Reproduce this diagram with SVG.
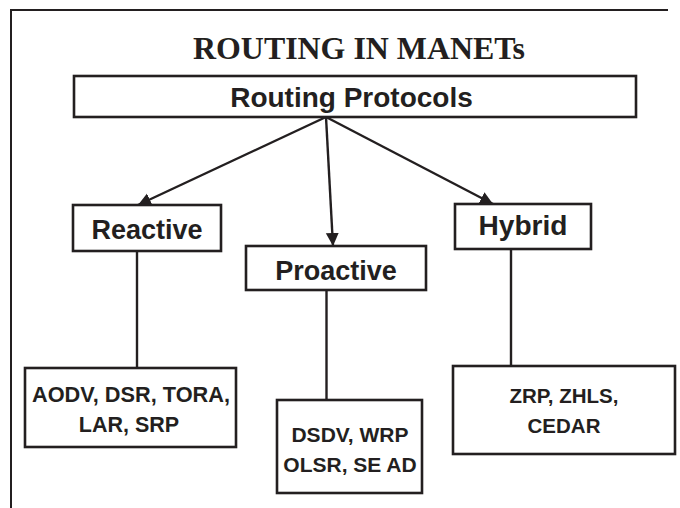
<svg xmlns="http://www.w3.org/2000/svg" width="680" height="508" viewBox="0 0 680 508">
  <style>
    .box { fill: #ffffff; stroke: #231f20; stroke-width: 2.6; }
    .conn { fill: none; stroke: #231f20; stroke-width: 2.4; }
    .lbl { font-family: "Liberation Sans", Arial, sans-serif; font-weight: bold; fill: #231f20; text-anchor: middle; }
    .title { font-family: "Liberation Serif", "Times New Roman", serif; font-weight: bold; fill: #231f20; text-anchor: middle; }
  </style>
  <defs>
    <marker id="arrow" markerUnits="userSpaceOnUse" markerWidth="14" markerHeight="14" refX="13" refY="6.5" orient="auto">
      <path d="M0,0 L13,6.5 L0,13 z" fill="#231f20"/>
    </marker>
  </defs>
  <rect width="680" height="508" fill="#ffffff"/>
  <path d="M11,508 V10 H668" fill="none" stroke="#231f20" stroke-width="2"/>
  <text class="title" x="359" y="59" font-size="32" textLength="332" lengthAdjust="spacingAndGlyphs">ROUTING IN MANETs</text>

  <g id="connectors">
    <line class="conn" x1="326" y1="117" x2="138" y2="205" marker-end="url(#arrow)"/>
    <line class="conn" x1="326" y1="117" x2="333" y2="246" marker-end="url(#arrow)"/>
    <line class="conn" x1="326" y1="117" x2="493" y2="204" marker-end="url(#arrow)"/>
    <line class="conn" x1="137" y1="251" x2="137" y2="368"/>
    <line class="conn" x1="326.5" y1="290" x2="326.5" y2="400"/>
    <line class="conn" x1="511" y1="249" x2="511" y2="366"/>
  </g>

  <g id="routing-protocols">
    <rect class="box" x="74" y="76" width="562" height="41"/>
    <text class="lbl" x="351.5" y="107" font-size="28">Routing Protocols</text>
  </g>
  <g id="reactive">
    <rect class="box" x="73" y="205" width="148" height="46"/>
    <text class="lbl" x="147" y="239" font-size="27">Reactive</text>
  </g>
  <g id="proactive">
    <rect class="box" x="246" y="246" width="180" height="44"/>
    <text class="lbl" x="336" y="280" font-size="27">Proactive</text>
  </g>
  <g id="hybrid">
    <rect class="box" x="455" y="204" width="136" height="45"/>
    <text class="lbl" x="523" y="235" font-size="27" textLength="89" lengthAdjust="spacingAndGlyphs">Hybrid</text>
  </g>
  <g id="reactive-protocols">
    <rect class="box" x="25" y="368" width="211" height="79"/>
    <text class="lbl" x="131" y="401.5" font-size="21.5" textLength="198" lengthAdjust="spacingAndGlyphs">AODV, DSR, TORA,</text>
    <text class="lbl" x="129" y="431.5" font-size="21.5">LAR, SRP</text>
  </g>
  <g id="proactive-protocols">
    <rect class="box" x="277" y="400" width="145" height="93"/>
    <text class="lbl" x="350" y="441.5" font-size="21">DSDV, WRP</text>
    <text class="lbl" x="350" y="471.5" font-size="21">OLSR, SE AD</text>
  </g>
  <g id="hybrid-protocols">
    <rect class="box" x="453" y="366" width="222" height="88"/>
    <text class="lbl" x="564" y="403" font-size="20.5">ZRP, ZHLS,</text>
    <text class="lbl" x="564" y="433" font-size="20.5">CEDAR</text>
  </g>
</svg>
